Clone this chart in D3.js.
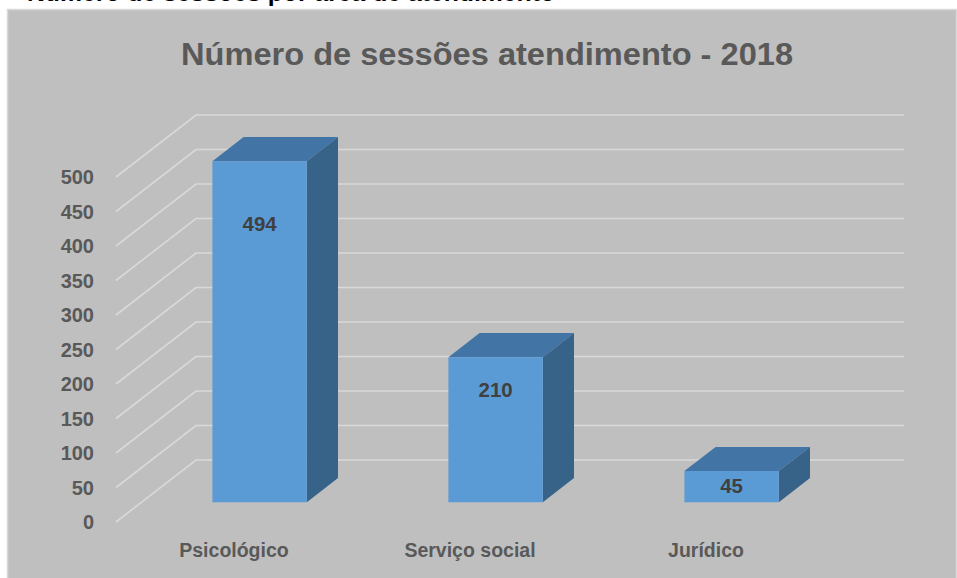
<!DOCTYPE html>
<html>
<head>
<meta charset="utf-8">
<script src="https://cdn.jsdelivr.net/npm/d3@7"></script>
<style>
  body { margin: 0; background: #ffffff; }
  text { font-family: "Liberation Sans", Arial, sans-serif; font-weight: bold; }
</style>
</head>
<body>
<div id="container"></div>
<script>
let w = 957;
let h = 578;

// DATA
let categories = ["Psicológico", "Serviço social", "Jurídico"];
let sessions = [494, 210, 45];
let yTicks = [0, 50, 100, 150, 200, 250, 300, 350, 400, 450, 500];
let chartTitle = "Número de sessões atendimento - 2018";
let captionAbove = "Número de sessões por área de atendimento";

// 3d depth of the plot box (front -> back)
let depthX = 80;
let depthY = 62;
let barFront = 0.32;
let barBack = 0.71;

let viz = d3.select("#container").append("svg")
    .attr("width", w)
    .attr("height", h)
;

// caption of the document, cut off by the top of the picture (as in the source)
viz.append("text")
    .attr("x", 27)
    .attr("y", 1)
    .attr("font-size", 24)
    .attr("fill", "#000000")
    .attr("textLength", 528)
    .attr("lengthAdjust", "spacingAndGlyphs")
    .text(captionAbove)
;

// chart area
viz.append("rect")
    .attr("x", 7.5)
    .attr("y", 9.5)
    .attr("width", 949)
    .attr("height", 575)
    .attr("fill", "#bfbfbf")
    .attr("stroke", "#d9d9d9")
    .attr("stroke-width", 1.5)
;

viz.append("text")
    .attr("x", 487)
    .attr("y", 65)
    .attr("text-anchor", "middle")
    .attr("font-size", 31)
    .attr("fill", "#595959")
    .attr("textLength", 612)
    .attr("lengthAdjust", "spacingAndGlyphs")
    .text(chartTitle)
;

// SCALES (front plane)
let yScale = d3.scaleLinear().domain([0, 500]).range([522, 177]);
let xScale = d3.scaleBand().domain(categories).range([116, 824])
    .paddingInner(0.6).paddingOuter(0.3);

// project a point: x on front plane, value, depth fraction
function pt(x, v, d) {
  return [x + d * depthX, yScale(v) - d * depthY];
}
let lineMaker = d3.line();

// gridlines: side wall diagonal + back wall
viz.selectAll(".grid").data(yTicks).enter()
  .append("path")
    .attr("class", "grid")
    .attr("d", function(d) {
      return lineMaker([pt(116, d, 0), pt(116, d, 1), pt(824, d, 1)]);
    })
    .attr("fill", "none")
    .attr("stroke", "#d9d9d9")
    .attr("stroke-width", 1.6)
;

// y tick labels
viz.selectAll(".ytick").data(yTicks).enter()
  .append("text")
    .attr("class", "ytick")
    .attr("x", 94)
    .attr("y", function(d) { return yScale(d); })
    .attr("dy", "0.36em")
    .attr("text-anchor", "end")
    .attr("font-size", 20)
    .attr("fill", "#595959")
    .text(function(d) { return d; })
;

// category labels
viz.selectAll(".xlabel").data(categories).enter()
  .append("text")
    .attr("class", "xlabel")
    .attr("x", function(d) { return xScale(d) + xScale.bandwidth() / 2; })
    .attr("y", 557)
    .attr("text-anchor", "middle")
    .attr("font-size", 19.5)
    .attr("fill", "#595959")
    .text(function(d) { return d; })
;

// BARS
let bars = viz.selectAll(".bar").data(categories).enter()
  .append("g")
    .attr("class", "bar")
;

bars.append("path")   // top
    .attr("d", function(d, i) {
      let x0 = xScale(d), x1 = x0 + xScale.bandwidth(), v = sessions[i];
      return lineMaker([pt(x0, v, barFront), pt(x1, v, barFront), pt(x1, v, barBack), pt(x0, v, barBack)]) + "Z";
    })
    .attr("fill", "#4275a5")
;
bars.append("path")   // right side
    .attr("d", function(d, i) {
      let x1 = xScale(d) + xScale.bandwidth(), v = sessions[i];
      return lineMaker([pt(x1, 0, barFront), pt(x1, v, barFront), pt(x1, v, barBack), pt(x1, 0, barBack)]) + "Z";
    })
    .attr("fill", "#376389")
;
bars.append("path")   // front
    .attr("d", function(d, i) {
      let x0 = xScale(d), x1 = x0 + xScale.bandwidth(), v = sessions[i];
      return lineMaker([pt(x0, 0, barFront), pt(x1, 0, barFront), pt(x1, v, barFront), pt(x0, v, barFront)]) + "Z";
    })
    .attr("fill", "#5b9bd5")
;

// value labels
bars.append("text")
    .attr("x", function(d) { return pt(xScale(d) + xScale.bandwidth() / 2, 0, barFront)[0]; })
    .attr("y", function(d, i) {
      let top = pt(0, sessions[i], barFront)[1];
      let bottom = pt(0, 0, barFront)[1];
      return top + 10 + 0.153 * (bottom - top);
    })
    .attr("dy", "0.36em")
    .attr("text-anchor", "middle")
    .attr("font-size", 20.5)
    .attr("fill", "#404040")
    .text(function(d, i) { return sessions[i]; })
;
</script>
</body>
</html>
